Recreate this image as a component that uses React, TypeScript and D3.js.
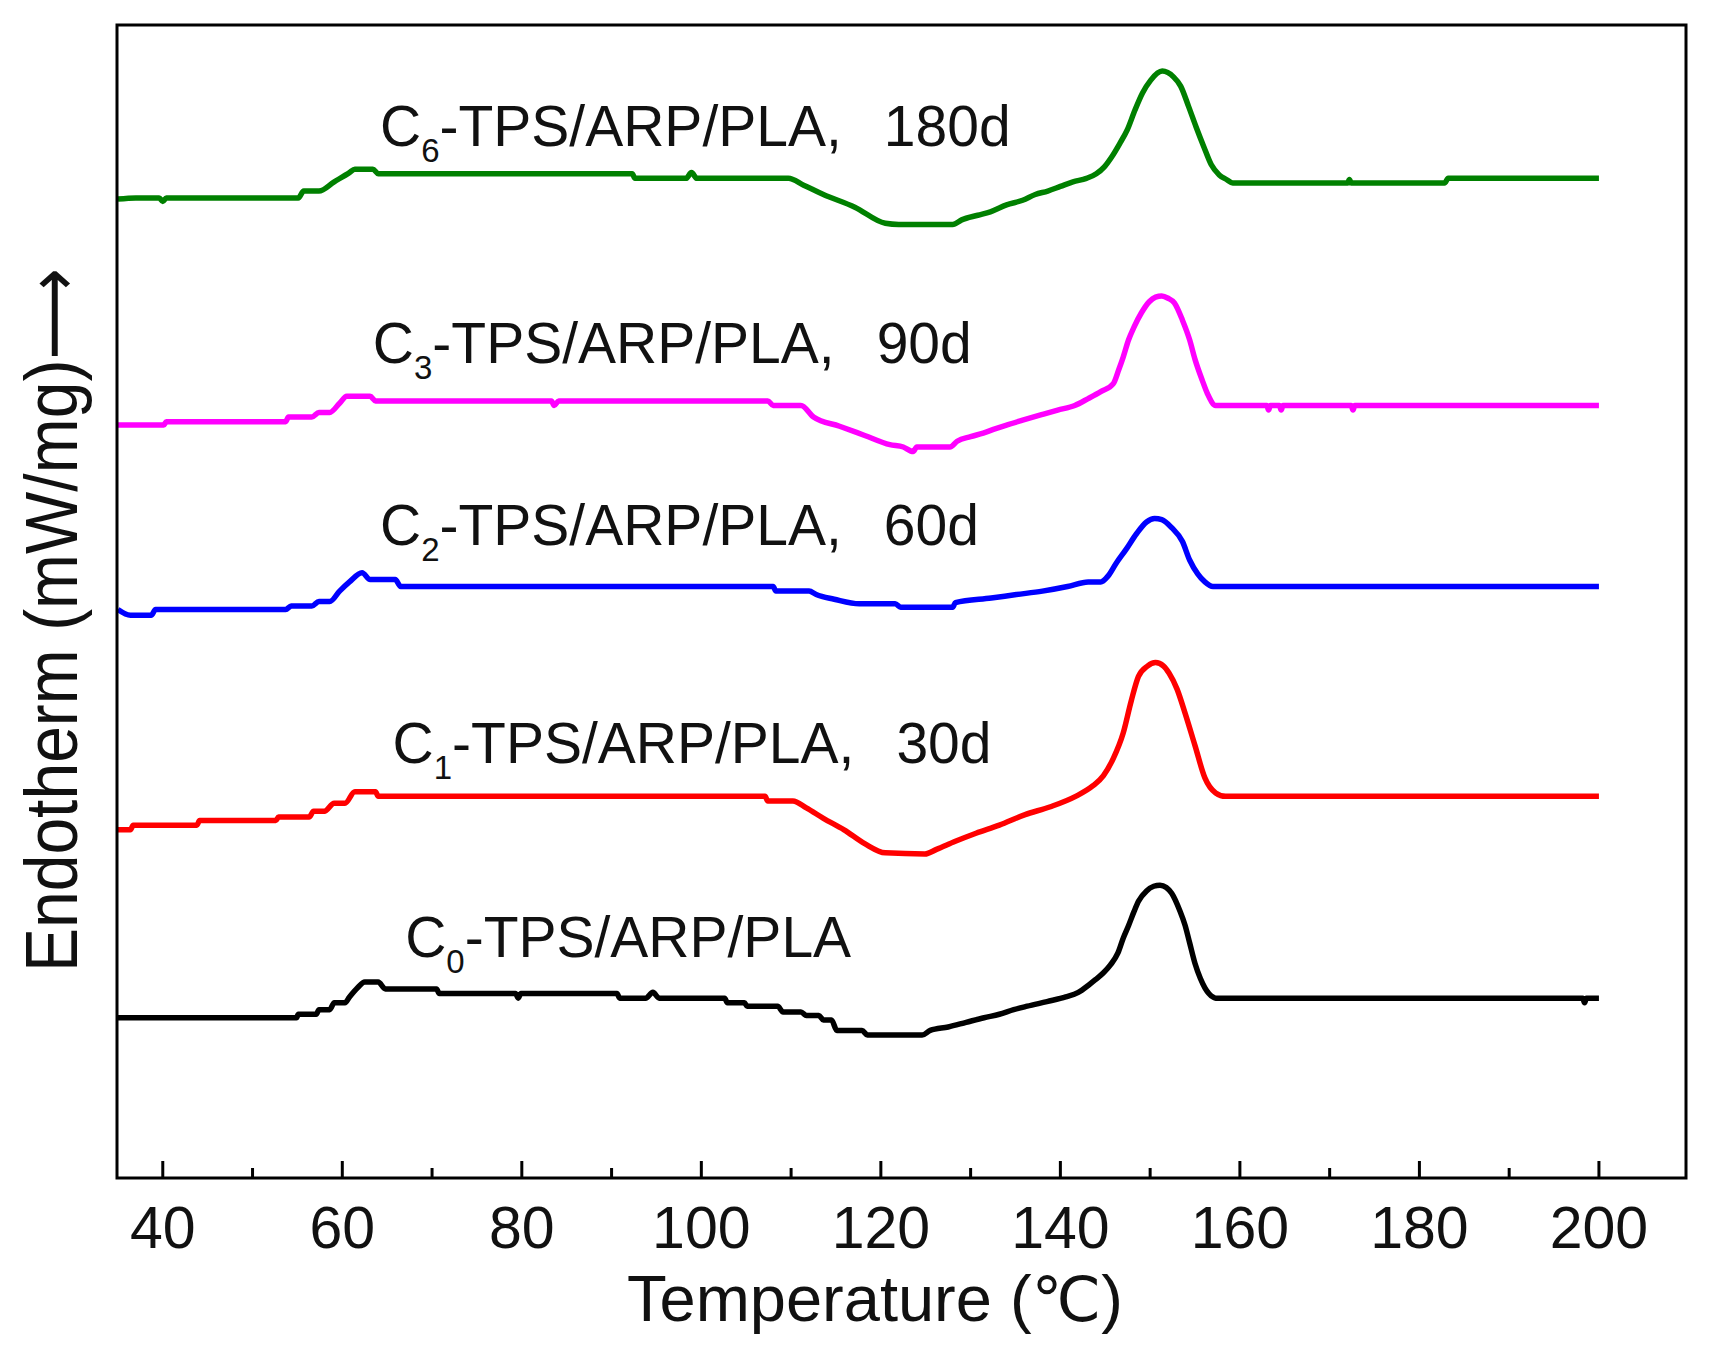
import * as d3 from "d3";

// DSC heating curves of the composted TPS/ARP/PLA films (curves offset vertically)
const tempDomain: [number, number] = [34.9, 209.7];
const signalDomain: [number, number] = [0, 100];
const majorTicks = [40, 60, 80, 100, 120, 140, 160, 180, 200];
const minorTicks = [50, 70, 90, 110, 130, 150, 170, 190];

const c0Curve: [number, number][] = [
  [35, 13.9], [54.9, 13.9], [55.1, 14.2], [57.1, 14.2], [57.4, 14.6], [58.6, 14.6], [59.1, 15.2], [60.3, 15.2],
  [60.8, 15.7], [61.7, 16.5], [62.5, 17.0], [64, 17.0], [64.8, 16.4], [70.5, 16.4], [70.8, 16.0], [79.3, 16.0],
  [79.6, 15.6], [79.9, 16.0], [90.6, 16.0], [90.9, 15.6], [93.8, 15.6], [94.6, 16.1], [95.3, 15.6], [102.6, 15.6],
  [102.9, 15.2], [104.8, 15.2], [105.1, 14.9], [108.5, 14.9], [109.1, 14.4], [111.1, 14.4], [111.7, 14.1], [113.1, 14.1],
  [113.6, 13.7], [114.5, 13.7], [115.1, 12.8], [117.9, 12.8], [118.5, 12.4], [124.6, 12.4], [125.5, 12.8], [127.5, 13.1],
  [129.5, 13.5], [131.5, 13.9], [133.2, 14.2], [134.8, 14.6], [136.3, 14.9], [138.5, 15.3], [140.6, 15.7], [142, 16.1],
  [143.1, 16.7], [143.9, 17.2], [144.8, 17.8], [145.6, 18.5], [146.4, 19.5], [147, 20.8], [147.6, 21.9], [148.2, 23.1],
  [148.7, 24.0], [149.6, 24.9], [150.4, 25.3], [151.1, 25.4], [151.8, 25.2], [152.4, 24.7], [153.3, 23.2], [153.9, 21.9],
  [154.4, 20.4], [155, 18.6], [155.6, 17.3], [156.1, 16.5], [157, 15.7], [157.3, 15.6], [198.2, 15.6], [198.4, 15.2],
  [198.6, 15.6], [200, 15.6],
];

const c1Curve: [number, number][] = [
  [35, 30.2], [36.4, 30.2], [36.7, 30.6], [43.8, 30.6], [44.1, 31.0], [52.6, 31.0], [52.9, 31.3], [56.3, 31.3],
  [56.8, 31.8], [58, 31.8], [59.1, 32.5], [60.3, 32.5], [61.4, 33.5], [63.7, 33.5], [64, 33.1], [107.1, 33.1],
  [107.4, 32.7], [110.2, 32.7], [111.7, 32.1], [113.6, 31.2], [115.9, 30.2], [118.2, 29.0], [120.5, 28.2], [124.9, 28.1],
  [126.2, 28.5], [128.3, 29.2], [130.6, 29.9], [133.2, 30.6], [136, 31.5], [138.9, 32.2], [141.7, 33.1], [143.6, 34.0],
  [144.8, 34.9], [145.9, 36.4], [147, 38.6], [147.9, 41.4], [148.7, 43.5], [149.7, 44.4], [150.6, 44.7], [151.5, 44.4],
  [152.1, 43.8], [153, 42.4], [153.9, 40.3], [155, 37.5], [156.1, 34.7], [157.3, 33.4], [158.4, 33.1], [200, 33.1],
];

const c2Curve: [number, number][] = [
  [35, 49.3], [36.4, 48.8], [38.7, 48.8], [39.2, 49.3], [53.7, 49.3], [54.3, 49.6], [56.6, 49.6], [57.4, 50.0],
  [58.6, 50.0], [59.7, 50.9], [60.8, 51.7], [62.2, 52.5], [63.1, 51.9], [65.9, 51.9], [66.5, 51.3], [108, 51.3],
  [108.3, 50.9], [112, 50.9], [112.8, 50.6], [114.8, 50.2], [117.6, 49.8], [121.6, 49.8], [122.2, 49.5], [128, 49.5],
  [128.3, 49.9], [132.3, 50.3], [135.1, 50.6], [138, 50.9], [140.8, 51.3], [143.1, 51.7], [144.5, 51.7], [145.3, 52.2],
  [146.2, 53.3], [147.3, 54.5], [148.5, 55.9], [149.6, 56.9], [150.5, 57.2], [151.3, 57.1], [152.4, 56.4], [153.6, 55.2],
  [154.4, 53.6], [155.3, 52.4], [156.1, 51.7], [157, 51.3], [200, 51.3],
];

const c3Curve: [number, number][] = [
  [35, 65.3], [40.1, 65.3], [40.4, 65.6], [53.7, 65.6], [54, 66.0], [56.6, 66.0], [57.4, 66.4], [58.6, 66.4],
  [59.7, 67.2], [60.5, 67.8], [63.1, 67.8], [63.7, 67.4], [83.3, 67.4], [83.6, 67.0], [84.1, 67.4], [107.4, 67.4],
  [108, 67.0], [111.1, 67.0], [112.5, 66.0], [115.4, 65.2], [118.2, 64.4], [121, 63.6], [122.5, 63.4], [123.6, 63.0],
  [124, 63.4], [127.7, 63.4], [128.5, 63.9], [130, 64.3], [131.4, 64.6], [132.8, 65.0], [134, 65.3], [135.7, 65.7],
  [137.9, 66.2], [139.7, 66.6], [141.6, 67.0], [143.1, 67.6], [144.5, 68.2], [145.9, 68.9], [146.5, 70.1], [147, 71.2],
  [147.6, 72.7], [148.2, 73.8], [149, 75.0], [149.9, 76.0], [150.6, 76.4], [151.3, 76.5], [152, 76.3], [152.7, 75.9],
  [153.6, 74.4], [154.4, 72.7], [155, 71.0], [155.8, 69.2], [156.4, 68.0], [157.3, 67.0], [163, 67.0], [163.2, 66.6],
  [163.4, 67.0], [164.4, 67.0], [164.6, 66.6], [164.8, 67.0], [172.4, 67.0], [172.6, 66.6], [172.8, 67.0], [200, 67.0],
];

const c6Curve: [number, number][] = [
  [35, 84.9], [37, 85.0], [39.6, 85.0], [40, 84.7], [40.4, 85.0], [55.1, 85.0], [55.7, 85.6], [57.4, 85.6],
  [59.1, 86.4], [60.8, 87.2], [61.4, 87.5], [63.4, 87.5], [64, 87.1], [92.3, 87.1], [92.6, 86.7], [98.3, 86.7],
  [98.9, 87.2], [99.5, 86.7], [109.7, 86.7], [111.4, 86.1], [113.6, 85.3], [117.1, 84.2], [120.5, 82.8], [122, 82.7],
  [128, 82.7], [129, 83.1], [130.8, 83.5], [132.2, 83.8], [134, 84.4], [135.8, 84.8], [137.2, 85.3], [138.6, 85.6],
  [140, 86.0], [141.4, 86.4], [142.9, 86.7], [144, 87.1], [144.9, 87.7], [145.75, 88.6], [146.6, 89.7], [147.45, 90.9],
  [148.3, 92.6], [149.15, 94.1], [150.05, 95.2], [151.35, 96.0], [152.6, 95.5], [153.4, 94.7], [154.3, 92.9], [155.1, 91.2],
  [156, 89.4], [156.8, 87.9], [157.7, 87.0], [158.5, 86.6], [159.2, 86.3], [172, 86.3], [172.2, 86.6], [172.4, 86.3],
  [182.8, 86.3], [183.2, 86.7], [200, 86.7],
];

const sampleNames = ["C0", "C1", "C2", "C3", "C6"];
const sampleSubs = ["0", "1", "2", "3", "6"];
const sampleDays = ["", "30d", "60d", "90d", "180d"];
const sampleColors = ["#000000", "#ff0000", "#0000ff", "#ff00ff", "#008000"];
const sampleCurves = [c0Curve, c1Curve, c2Curve, c3Curve, c6Curve];
// where each label starts, in temperature / signal units
const labelAnchors: [number, number][] = [[67.0, 19.2], [65.6, 36.0], [64.2, 54.9], [63.4, 70.7], [64.2, 89.5]];

const W = 1715;
const H = 1358;
const margin = { top: 25, right: 29, bottom: 180, left: 117 };
const font = '"Liberation Sans", Arial, Helvetica, sans-serif';

export default function App() {
  const x = d3.scaleLinear().domain(tempDomain).range([margin.left, W - margin.right]);
  const y = d3.scaleLinear().domain(signalDomain).range([H - margin.bottom, margin.top]);

  const line = d3.line<[number, number]>()
    .x(d => x(d[0]))
    .y(d => y(d[1]))
    .curve(d3.curveMonotoneX);

  const plotBottom = H - margin.bottom;

  return (
    <svg width={W} height={H} style={{ position: "absolute", left: 0, top: 0, background: "#fff" }} fontFamily={font}>
      <rect x={0} y={0} width={W} height={H} fill="#fff" />

      {sampleCurves.map((curve, i) => (
        <path key={sampleNames[i]} d={line(curve) ?? ""} fill="none" stroke={sampleColors[i]}
          strokeWidth={5.5} strokeLinejoin="round" strokeLinecap="butt" />
      ))}

      {labelAnchors.map(([t, v], i) => (
        <text key={"lbl" + i} x={x(t)} y={y(v)} fontSize={57} fill="#111">
          <tspan>C</tspan>
          <tspan dy={16} fontSize={33}>{sampleSubs[i]}</tspan>
          <tspan dy={-16}>-TPS/ARP/PLA{sampleDays[i] ? "," : ""}</tspan>
          {sampleDays[i] ? <tspan dx={42}>{sampleDays[i]}</tspan> : null}
        </text>
      ))}

      {/* frame */}
      <rect x={margin.left} y={margin.top} width={W - margin.left - margin.right} height={H - margin.top - margin.bottom}
        fill="none" stroke="#000" strokeWidth={3} />

      {/* inward ticks on the temperature axis */}
      {majorTicks.map(t => (
        <line key={"M" + t} x1={x(t)} x2={x(t)} y1={plotBottom} y2={plotBottom - 17} stroke="#000" strokeWidth={3} />
      ))}
      {minorTicks.map(t => (
        <line key={"m" + t} x1={x(t)} x2={x(t)} y1={plotBottom} y2={plotBottom - 10} stroke="#000" strokeWidth={3} />
      ))}
      {majorTicks.map(t => (
        <text key={"t" + t} x={x(t)} y={1248} fontSize={59} textAnchor="middle" fill="#111">{t}</text>
      ))}

      <text x={627} y={1321} fontSize={65} fill="#111">
        Temperature (<tspan fontFamily='"DejaVu Sans", sans-serif' fontSize={62}>℃</tspan>)
      </text>

      <text transform="translate(77, 972) rotate(-90) scale(1, 1.12)" fontSize={66} fill="#111">
        Endotherm (mW/mg)<tspan fontFamily='"DejaVu Sans", sans-serif' fontSize={64}>⟶</tspan>
      </text>
    </svg>
  );
}
